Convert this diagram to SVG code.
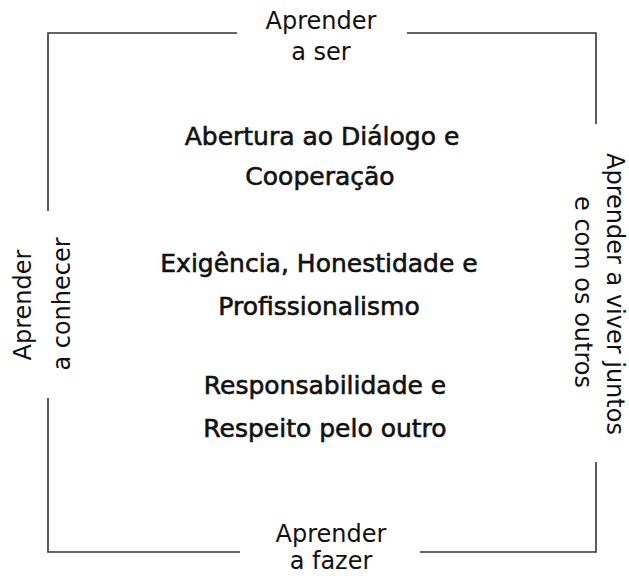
<svg xmlns="http://www.w3.org/2000/svg" width="629" height="576" viewBox="0 0 629 576">
<style>
.frame{fill:none;stroke:#333;stroke-width:1.6}
.lbl{font-family:"DejaVu Sans","Liberation Sans",sans-serif;font-size:24px;fill:#111;text-anchor:middle}
.val{font-family:"DejaVu Sans","Liberation Sans",sans-serif;font-size:25px;fill:#111;stroke:#111;stroke-width:0.6;text-anchor:middle}
</style>
<rect width="629" height="576" fill="#fff"/>
<g id="connectors">
<path class="frame" d="M237,33 H48 V211"/>
<path class="frame" d="M407,33 H596 V124"/>
<path class="frame" d="M48,398 V552 H240"/>
<path class="frame" d="M420,552 H596 V462"/>
</g>
<g id="aprender-a-ser">
<text class="lbl" x="321" y="29">Aprender</text>
<text class="lbl" x="321" y="60">a ser</text>
</g>
<g id="aprender-a-conhecer">
<text class="lbl" transform="translate(31,305) rotate(-90)">Aprender</text>
<text class="lbl" transform="translate(70,304) rotate(-90)">a conhecer</text>
</g>
<g id="aprender-a-viver">
<text class="lbl" transform="translate(607,294) rotate(90)">Aprender a viver juntos</text>
<text class="lbl" transform="translate(575,292) rotate(90)">e com os outros</text>
</g>
<g id="aprender-a-fazer">
<text class="lbl" x="331" y="542">Aprender</text>
<text class="lbl" x="331" y="569">a fazer</text>
</g>
<g id="valores">
<text class="val" x="322" y="145">Abertura ao Diálogo e</text>
<text class="val" x="320" y="185">Cooperação</text>
<text class="val" x="319" y="272">Exigência, Honestidade e</text>
<text class="val" x="319" y="315">Profissionalismo</text>
<text class="val" x="325" y="394">Responsabilidade e</text>
<text class="val" x="325" y="437">Respeito pelo outro</text>
</g>
</svg>
